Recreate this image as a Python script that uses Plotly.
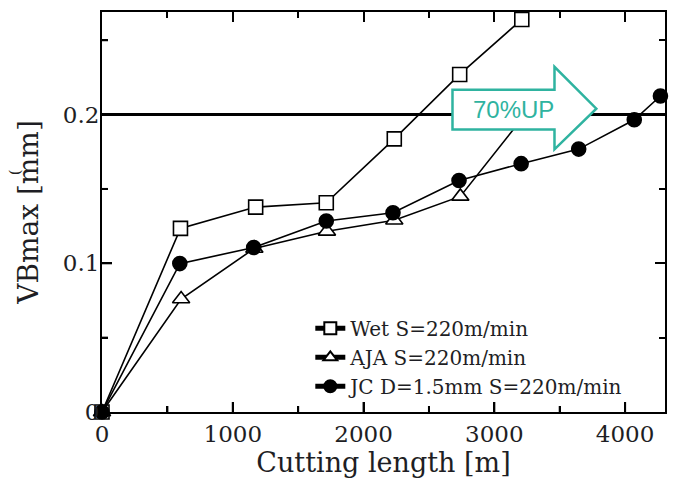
import plotly.graph_objects as go

# ---- data ----
wet_x = [0, 600, 1175, 1715, 2235, 2735, 3210]
wet_y = [0, 0.1235, 0.1378, 0.1407, 0.1837, 0.2270, 0.2640]

aja_x = [0, 605, 1165, 1720, 2235, 2740, 3200]
aja_y = [0, 0.0760, 0.1100, 0.1215, 0.1290, 0.1450, 0.1960]

jc_x = [0, 595, 1160, 1715, 2225, 2730, 3205, 3645, 4070, 4270]
jc_y = [0, 0.0998, 0.1106, 0.1284, 0.1340, 0.1557, 0.1670, 0.1768, 0.1965, 0.2125]

names = ["Wet S=220m/min", "AJA S=220m/min", "JC D=1.5mm S=220m/min"]

x_ticks = [0, 1000, 2000, 3000, 4000]
y_ticks = [0, 0.1, 0.2]
y_tick_text = ["0", "0.1", "0.2"]

limit_value = 0.2
arrow_label = "70%UP"

X_MAX = 4305
Y_MAX = 0.269

TEAL = "#2fb3a0"
SERIF = "DejaVu Serif"
TXT = "#1e1e24"

fig = go.Figure()

def add(xs, ys, name, symbol, fill):
    fig.add_trace(go.Scatter(
        x=xs, y=ys, name=name, mode="lines+markers",
        line=dict(color="black", width=1.6),
        marker=dict(symbol=symbol, size=14 if symbol != "triangle-up" else 15,
                    color=fill, line=dict(color="black", width=1.6)),
        cliponaxis=False,
    ))

add(wet_x, wet_y, names[0], "square", "white")
add(aja_x, aja_y, names[1], "triangle-up", "white")
add(jc_x, jc_y, names[2], "circle", "black")

# threshold line
fig.add_shape(type="line", xref="paper", yref="y", x0=0, x1=1,
              y0=limit_value, y1=limit_value,
              line=dict(color="black", width=3), layer="above")

# big teal arrow (white filled, covers data)
ax0, ax1, ax2 = 2680, 3460, 3780
sy0, sy1 = 0.190, 0.2167
hy0, hy1 = 0.1766, 0.2321
tipy = 0.204
path = (f"M {ax0},{sy0} L {ax0},{sy1} L {ax1},{sy1} L {ax1},{hy1} "
        f"L {ax2},{tipy} L {ax1},{hy0} L {ax1},{sy0} Z")
fig.add_shape(type="path", path=path, xref="x", yref="y",
              fillcolor="white", line=dict(color=TEAL, width=2.5), layer="above")
fig.add_annotation(x=3150, y=0.2035, xref="x", yref="y", text=arrow_label,
                   showarrow=False, font=dict(family="Liberation Sans", size=24, color=TEAL))

# small mark beside the y title (present in original)
fig.add_annotation(xref="paper", yref="paper", x=-0.154, y=0.60, text="(",
                   xanchor="center", yanchor="middle",
                   textangle=-90, showarrow=False,
                   font=dict(family=SERIF, size=15, color=TXT))

# inward tick marks on the bottom and left edges, derived from the tick arrays
x_step = x_ticks[1] - x_ticks[0]
y_step = y_ticks[1] - y_ticks[0]
x_marks = [(v, 10) for v in x_ticks] + [(v + x_step / 2, 6) for v in x_ticks if v + x_step / 2 < X_MAX]
y_marks = [(v, 10) for v in y_ticks] + [(v + y_step / 2, 6) for v in y_ticks if v + y_step / 2 < Y_MAX]
for v, ln in x_marks:
    if v == 0:
        continue
    fig.add_shape(type="line", xref="x", x0=v, x1=v,
                  yref="paper", ysizemode="pixel", yanchor=0, y0=0, y1=ln,
                  line=dict(color="black", width=2), layer="above")
for v, ln in y_marks:
    if v == 0:
        continue
    fig.add_shape(type="line", yref="y", y0=v, y1=v,
                  xref="paper", xsizemode="pixel", xanchor=0, x0=0, x1=ln,
                  line=dict(color="black", width=2), layer="above")

axis_common = dict(
    showline=True, linecolor="black", linewidth=2, mirror="ticks",
    ticks="inside", ticklen=10, tickwidth=2, tickcolor="black",
    showgrid=False, zeroline=False, layer="above traces",
    tickfont=dict(family=SERIF, size=23, color=TXT),
)

fig.update_xaxes(
    range=[0, X_MAX], tickmode="array", tickvals=x_ticks,
    minor=dict(tickmode="linear", dtick=500, tick0=0, ticks="inside", ticklen=6,
               tickwidth=2, tickcolor="black", showgrid=False),
    title=dict(text="Cutting length [m]", font=dict(family=SERIF, size=27, color=TXT), standoff=6),
    **axis_common,
)
fig.update_yaxes(
    range=[0, Y_MAX], tickmode="array", tickvals=y_ticks, ticktext=y_tick_text,
    minor=dict(tickmode="linear", dtick=0.05, tick0=0, ticks="inside", ticklen=6,
               tickwidth=2, tickcolor="black", showgrid=False),
    title=dict(text="VBmax [mm]", font=dict(family=SERIF, size=28, color=TXT), standoff=16),
    ticklabelstandoff=-4,
    **axis_common,
)

fig.update_layout(
    width=677, height=492,
    margin=dict(l=102, r=10, t=10, b=80),
    paper_bgcolor="white", plot_bgcolor="rgba(0,0,0,0)",
    showlegend=True,
    legend=dict(x=0.37, y=0.258, xanchor="left", yanchor="top",
                bgcolor="rgba(0,0,0,0)", font=dict(family=SERIF, size=20, color=TXT),
                tracegroupgap=0, itemsizing="constant"),
)

fig.write_html("out.html", config={"displayModeBar": False},
               post_script="document.body.style.margin='0';document.body.style.padding='0';")
